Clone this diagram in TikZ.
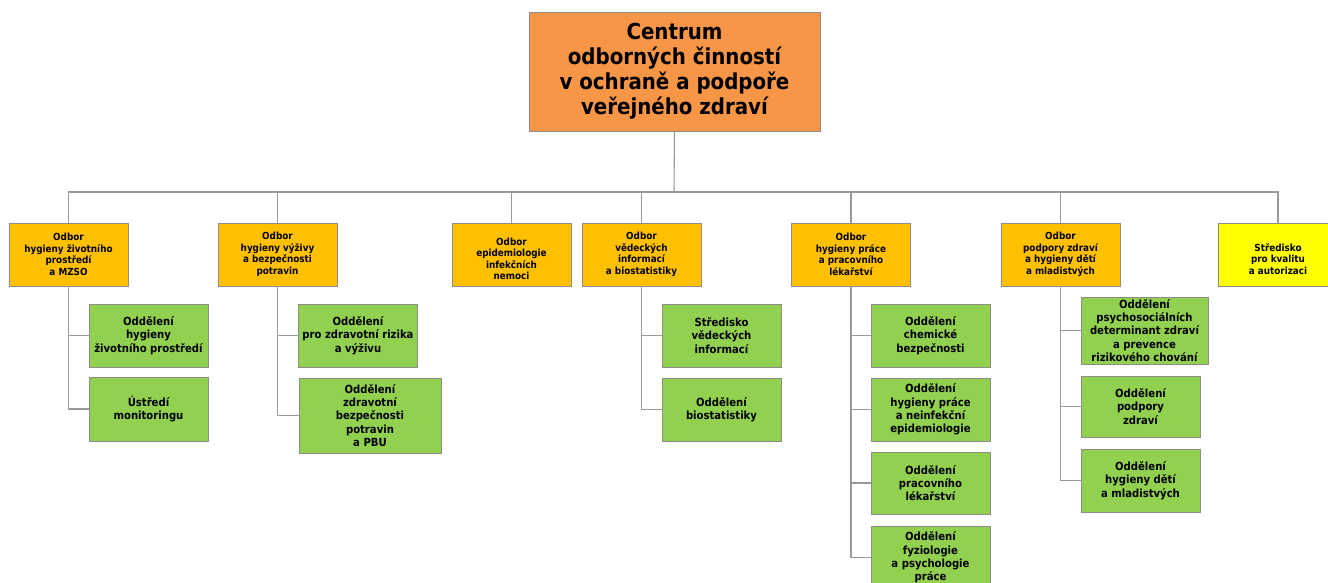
\documentclass[tikz,border=0pt]{standalone}
\usepackage{fontspec}
\setmainfont{DejaVu Sans Condensed}
\begin{document}
\begin{tikzpicture}[x=1pt,y=-1pt,
  box/.style={draw=boxgray, line width=0.9pt, inner sep=0pt, align=center, font=\bfseries},
  topbox/.style={box, fill=topor, minimum width=291, minimum height=119, font=\fontsize{22}{25}\selectfont\bfseries},
  odfont/.style={font=\fontsize{9.8}{11.5}\selectfont\bfseries, align=center, inner sep=0pt},
  odbor/.style={box, fill=odor, minimum width=119, minimum height=63, odfont},
  stred/.style={odbor, fill=yel},
  odd/.style={box, fill=grn, minimum width=119, font=\fontsize{11.2}{13.3}\selectfont\bfseries},
  conn/.style={draw=linegray, line width=1.1pt}
]
\definecolor{boxgray}{HTML}{8C8C8C}
\definecolor{linegray}{HTML}{999999}
\definecolor{topor}{HTML}{F79646}
\definecolor{odor}{HTML}{FFC000}
\definecolor{yel}{HTML}{FFFF00}
\definecolor{grn}{HTML}{92D050}
\useasboundingbox (0,0) rectangle (1328,583);
\clip (0,0) rectangle (1328,583);
\fill[white] (0,0) rectangle (1328,583);

% top
\node[topbox] (top) at (674.5,71.5) {Centrum\\odborných činností\\v ochraně a podpoře\\veřejného zdraví};
\coordinate (bus) at (674,192);

% odbory
\node[odbor] (o1) at (68.5,254.5) {Odbor\\hygieny životního\\prostředí\\a MZSO};
\node[odbor] (o2) at (277.5,254.5) {Odbor\\hygieny výživy\\a bezpečnosti\\potravin};
\node[odbor] (o3) at (511.5,254.5) {};
\node[odfont] (t3) at ([yshift=-4.5]o3.center) {Odbor\\epidemiologie\\infekčních\\nemoci};
\node[odbor] (o4) at (641.5,254.5) {Odbor\\vědeckých\\informací\\a biostatistiky};
\node[odbor] (o5) at (851,254.5) {Odbor\\hygieny práce\\a pracovního\\lékařství};
\node[odbor] (o6) at (1060.5,254.5) {Odbor\\podpory zdraví\\a hygieny dětí\\a mladistvých};
\node[stred] (o7) at (1278,254.5) {};
\node[odfont] (t7) at ([yshift=-4.5]o7.center) {Středisko\\pro kvalitu\\a autorizaci};

\draw[conn] (top.south) -- (bus);
\draw[conn] (o1.north) |- (bus) -| (o7.north);
\foreach \n in {o2,o3,o4,o5,o6} \draw[conn] (\n.north) -- (\n.north |- bus);

% column 1
\node[odd, minimum height=63] (g11) at (148.5,335.5) {Oddělení\\hygieny\\životního prostředí};
\node[odd, minimum height=64] (g12) at (148.5,409) {Ústředí\\monitoringu};
% column 2
\node[odd, minimum height=63] (g21) at (358,335.5) {Oddělení\\pro zdravotní rizika\\a výživu};
\node[odd, minimum width=142, minimum height=75] (g22) at (370,415.5) {Oddělení\\zdravotní\\bezpečnosti\\potravin\\a PBU};
% column 4
\node[odd, minimum height=63] (g41) at (721.5,335.5) {Středisko\\vědeckých\\informací};
\node[odd, minimum height=63] (g42) at (721.5,409.5) {Oddělení\\biostatistiky};
% column 5
\node[odd, minimum height=63] (g51) at (930.5,335.5) {Oddělení\\chemické\\bezpečnosti};
\node[odd, minimum height=63] (g52) at (930.5,409.5) {Oddělení\\hygieny práce\\a neinfekční\\epidemiologie};
\node[odd, minimum height=62] (g53) at (930.5,483) {Oddělení\\pracovního\\lékařství};
\node[odd, minimum height=63] (g54) at (930.5,557.5) {Oddělení\\fyziologie\\a psychologie\\práce};
% column 6
\node[odd, minimum width=127, minimum height=67] (g61) at (1144.5,330.5) {Oddělení\\psychosociálních\\determinant zdraví\\a prevence\\rizikového chování};
\node[odd, minimum height=61] (g62) at (1140.5,406.5) {Oddělení\\podpory\\zdraví};
\node[odd, minimum height=63] (g63) at (1140.5,480.5) {Oddělení\\hygieny dětí\\a mladistvých};

% connectors
\draw[conn] (o1.south) |- (g12.west);
\draw[conn] (o1.south |- g11.west) -- (g11.west);
\draw[conn] (o2.south) |- (g22.west);
\draw[conn] (o2.south |- g21.west) -- (g21.west);
\draw[conn] (o4.south) |- (g42.west);
\draw[conn] (o4.south |- g41.west) -- (g41.west);
\draw[conn] (o5.south) |- (g54.west);
\foreach \n in {g51,g52,g53} \draw[conn] (o5.south |- \n.west) -- (\n.west);
\draw[conn] (o6.south) |- (g63.west);
\foreach \n in {g61,g62} \draw[conn] (o6.south |- \n.west) -- (\n.west);
\end{tikzpicture}
\end{document}
